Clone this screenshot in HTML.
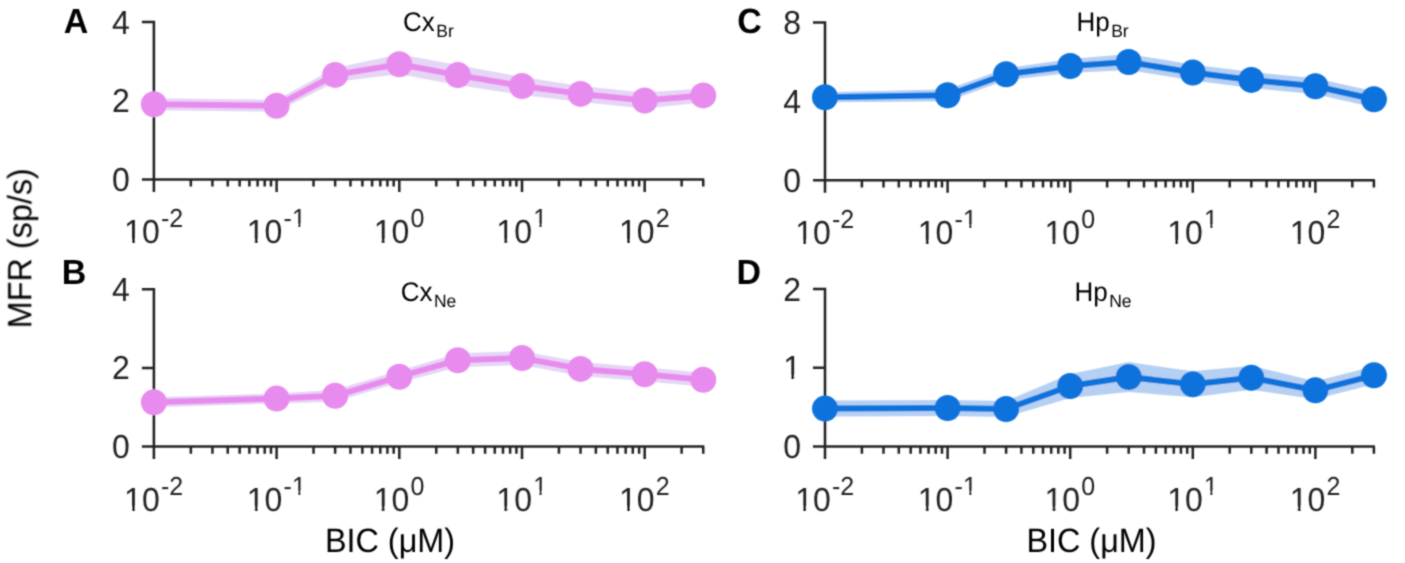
<!DOCTYPE html>
<html><head><meta charset="utf-8"><style>
html,body{margin:0;padding:0;background:#fff;width:1405px;height:563px;overflow:hidden}
svg{display:block}
text{font-family:"Liberation Sans",sans-serif}
</style></head><body>
<svg width="1405" height="563" viewBox="0 0 1405 563" font-family="Liberation Sans, sans-serif" text-rendering="geometricPrecision">
<defs><filter id="bl" x="0" y="0" width="100%" height="100%" filterUnits="userSpaceOnUse"><feConvolveMatrix order="3" kernelMatrix="1 2 1 2 8 2 1 2 1" edgeMode="duplicate" preserveAlpha="false"/></filter></defs>
<rect width="100%" height="100%" fill="#fff"/><g filter="url(#bl)"><path d="M141.9 22.1H153.9V179.4M141.9 179.4H704.24M141.9 100.75H153.9M153.9 179.4V191.9M190.84 179.4V186.6M212.44 179.4V186.6M227.77 179.4V186.6M239.66 179.4V186.6M249.38 179.4V186.6M257.59 179.4V186.6M264.71 179.4V186.6M270.99 179.4V186.6M276.6 179.4V191.9M313.54 179.4V186.6M335.14 179.4V186.6M350.47 179.4V186.6M362.36 179.4V186.6M372.08 179.4V186.6M380.29 179.4V186.6M387.41 179.4V186.6M393.69 179.4V186.6M399.3 179.4V191.9M436.24 179.4V186.6M457.84 179.4V186.6M473.17 179.4V186.6M485.06 179.4V186.6M494.78 179.4V186.6M502.99 179.4V186.6M510.11 179.4V186.6M516.39 179.4V186.6M522 179.4V191.9M558.94 179.4V186.6M580.54 179.4V186.6M595.87 179.4V186.6M607.76 179.4V186.6M617.48 179.4V186.6M625.69 179.4V186.6M632.81 179.4V186.6M639.09 179.4V186.6M644.7 179.4V191.9M681.64 179.4V186.6M703.24 179.4V186.6M141.9 289.2H153.9V446.6M141.9 446.6H704.24M141.9 367.9H153.9M153.9 446.6V459.1M190.84 446.6V453.8M212.44 446.6V453.8M227.77 446.6V453.8M239.66 446.6V453.8M249.38 446.6V453.8M257.59 446.6V453.8M264.71 446.6V453.8M270.99 446.6V453.8M276.6 446.6V459.1M313.54 446.6V453.8M335.14 446.6V453.8M350.47 446.6V453.8M362.36 446.6V453.8M372.08 446.6V453.8M380.29 446.6V453.8M387.41 446.6V453.8M393.69 446.6V453.8M399.3 446.6V459.1M436.24 446.6V453.8M457.84 446.6V453.8M473.17 446.6V453.8M485.06 446.6V453.8M494.78 446.6V453.8M502.99 446.6V453.8M510.11 446.6V453.8M516.39 446.6V453.8M522 446.6V459.1M558.94 446.6V453.8M580.54 446.6V453.8M595.87 446.6V453.8M607.76 446.6V453.8M617.48 446.6V453.8M625.69 446.6V453.8M632.81 446.6V453.8M639.09 446.6V453.8M644.7 446.6V459.1M681.64 446.6V453.8M703.24 446.6V453.8M813 22.6H825V180.2M813 180.2H1374.9M813 101.4H825M825 180.2V192.7M861.91 180.2V187.4M883.5 180.2V187.4M898.81 180.2V187.4M910.69 180.2V187.4M920.4 180.2V187.4M928.61 180.2V187.4M935.72 180.2V187.4M941.99 180.2V187.4M947.6 180.2V192.7M984.51 180.2V187.4M1006.1 180.2V187.4M1021.41 180.2V187.4M1033.29 180.2V187.4M1043 180.2V187.4M1051.21 180.2V187.4M1058.32 180.2V187.4M1064.59 180.2V187.4M1070.2 180.2V192.7M1107.11 180.2V187.4M1128.7 180.2V187.4M1144.01 180.2V187.4M1155.89 180.2V187.4M1165.6 180.2V187.4M1173.81 180.2V187.4M1180.92 180.2V187.4M1187.19 180.2V187.4M1192.8 180.2V192.7M1229.71 180.2V187.4M1251.3 180.2V187.4M1266.61 180.2V187.4M1278.49 180.2V187.4M1288.2 180.2V187.4M1296.41 180.2V187.4M1303.52 180.2V187.4M1309.79 180.2V187.4M1315.4 180.2V192.7M1352.31 180.2V187.4M1373.9 180.2V187.4M813 289H825V446.6M813 446.6H1374.9M813 367.8H825M825 446.6V459.1M861.91 446.6V453.8M883.5 446.6V453.8M898.81 446.6V453.8M910.69 446.6V453.8M920.4 446.6V453.8M928.61 446.6V453.8M935.72 446.6V453.8M941.99 446.6V453.8M947.6 446.6V459.1M984.51 446.6V453.8M1006.1 446.6V453.8M1021.41 446.6V453.8M1033.29 446.6V453.8M1043 446.6V453.8M1051.21 446.6V453.8M1058.32 446.6V453.8M1064.59 446.6V453.8M1070.2 446.6V459.1M1107.11 446.6V453.8M1128.7 446.6V453.8M1144.01 446.6V453.8M1155.89 446.6V453.8M1165.6 446.6V453.8M1173.81 446.6V453.8M1180.92 446.6V453.8M1187.19 446.6V453.8M1192.8 446.6V459.1M1229.71 446.6V453.8M1251.3 446.6V453.8M1266.61 446.6V453.8M1278.49 446.6V453.8M1288.2 446.6V453.8M1296.41 446.6V453.8M1303.52 446.6V453.8M1309.79 446.6V453.8M1315.4 446.6V459.1M1352.31 446.6V453.8M1373.9 446.6V453.8" stroke="#222222" stroke-width="2.5" fill="none" stroke-linecap="butt" stroke-linejoin="miter"/>
<polygon points="153.9,98.3 276.6,99.8 335.14,67.9 399.3,54.2 457.84,65.1 522,77 580.54,85.9 644.7,92.5 703.24,88.4 703.24,102.4 644.7,108.5 580.54,101.9 522,95 457.84,85.1 399.3,74.2 335.14,81.9 276.6,111.8 153.9,110.3" fill="#E5D6F6"/>
<polyline points="153.9,104.3 276.6,105.8 335.14,74.9 399.3,64.2 457.84,75.1 522,86 580.54,93.9 644.7,100.5 703.24,95.4" fill="none" stroke="#E88BEE" stroke-width="6" stroke-linejoin="round"/>
<g fill="#E88BEE"><circle cx="153.9" cy="104.3" r="13"/><circle cx="276.6" cy="105.8" r="13"/><circle cx="335.14" cy="74.9" r="13"/><circle cx="399.3" cy="64.2" r="13"/><circle cx="457.84" cy="75.1" r="13"/><circle cx="522" cy="86" r="13"/><circle cx="580.54" cy="93.9" r="13"/><circle cx="644.7" cy="100.5" r="13"/><circle cx="703.24" cy="95.4" r="13"/></g>
<polygon points="153.9,397.2 276.6,393.6 335.14,389.8 399.3,370.7 457.84,353.2 522,351 580.54,361.9 644.7,367.3 703.24,372.8 703.24,386.8 644.7,381.3 580.54,375.9 522,365 457.84,367.2 399.3,382.7 335.14,401.8 276.6,403.6 153.9,407.2" fill="#E5D6F6"/>
<polyline points="153.9,402.2 276.6,398.6 335.14,395.8 399.3,376.7 457.84,360.2 522,358 580.54,368.9 644.7,374.3 703.24,379.8" fill="none" stroke="#E88BEE" stroke-width="6" stroke-linejoin="round"/>
<g fill="#E88BEE"><circle cx="153.9" cy="402.2" r="13"/><circle cx="276.6" cy="398.6" r="13"/><circle cx="335.14" cy="395.8" r="13"/><circle cx="399.3" cy="376.7" r="13"/><circle cx="457.84" cy="360.2" r="13"/><circle cx="522" cy="358" r="13"/><circle cx="580.54" cy="368.9" r="13"/><circle cx="644.7" cy="374.3" r="13"/><circle cx="703.24" cy="379.8" r="13"/></g>
<polygon points="825,92.3 947.6,89.2 1006.1,68.2 1070.2,59 1128.7,54 1192.8,64.6 1251.3,71.9 1315.4,78.2 1373.9,91.3 1373.9,107.3 1315.4,94.2 1251.3,87.9 1192.8,80.6 1128.7,70 1070.2,73 1006.1,80.2 947.6,101.2 825,102.3" fill="#B5D0F3"/>
<polyline points="825,97.3 947.6,95.2 1006.1,74.2 1070.2,66 1128.7,62 1192.8,72.6 1251.3,79.9 1315.4,86.2 1373.9,99.3" fill="none" stroke="#0872DB" stroke-width="6" stroke-linejoin="round"/>
<g fill="#0872DB"><circle cx="825" cy="97.3" r="13"/><circle cx="947.6" cy="95.2" r="13"/><circle cx="1006.1" cy="74.2" r="13"/><circle cx="1070.2" cy="66" r="13"/><circle cx="1128.7" cy="62" r="13"/><circle cx="1192.8" cy="72.6" r="13"/><circle cx="1251.3" cy="79.9" r="13"/><circle cx="1315.4" cy="86.2" r="13"/><circle cx="1373.9" cy="99.3" r="13"/></g>
<polygon points="825,400.6 947.6,400 1006.1,401 1070.2,374 1128.7,362 1192.8,371.3 1251.3,365.7 1315.4,381.3 1373.9,366.3 1373.9,384.3 1315.4,399.3 1251.3,389.7 1192.8,397.3 1128.7,392 1070.2,398 1006.1,417 947.6,416 825,416.6" fill="#B5D0F3"/>
<polyline points="825,408.6 947.6,408 1006.1,409 1070.2,386 1128.7,377 1192.8,384.3 1251.3,377.7 1315.4,390.3 1373.9,375.3" fill="none" stroke="#0872DB" stroke-width="6" stroke-linejoin="round"/>
<g fill="#0872DB"><circle cx="825" cy="408.6" r="13"/><circle cx="947.6" cy="408" r="13"/><circle cx="1006.1" cy="409" r="13"/><circle cx="1070.2" cy="386" r="13"/><circle cx="1128.7" cy="377" r="13"/><circle cx="1192.8" cy="384.3" r="13"/><circle cx="1251.3" cy="377.7" r="13"/><circle cx="1315.4" cy="390.3" r="13"/><circle cx="1373.9" cy="375.3" r="13"/></g>
<g fill="#222222"><text transform="translate(112.1 190.9) scale(1 1.04)" font-size="32">0</text>
<text transform="translate(112.1 112.25) scale(1 1.04)" font-size="32">2</text>
<text transform="translate(112.1 33.6) scale(1 1.04)" font-size="32">4</text>
<text transform="translate(124.09 243.4) scale(1 1.04)" font-size="32">10</text><text transform="translate(160.88 227.4) scale(1 1.04)" font-size="25">-2</text>
<text transform="translate(246.79 243.4) scale(1 1.04)" font-size="32">10</text><text transform="translate(283.58 227.4) scale(1 1.04)" font-size="25">-1</text>
<text transform="translate(373.65 243.4) scale(1 1.04)" font-size="32">10</text><text transform="translate(410.44 227.4) scale(1 1.04)" font-size="25">0</text>
<text transform="translate(496.35 243.4) scale(1 1.04)" font-size="32">10</text><text transform="translate(533.14 227.4) scale(1 1.04)" font-size="25">1</text>
<text transform="translate(619.05 243.4) scale(1 1.04)" font-size="32">10</text><text transform="translate(655.84 227.4) scale(1 1.04)" font-size="25">2</text>
<text transform="translate(112.1 458.1) scale(1 1.04)" font-size="32">0</text>
<text transform="translate(112.1 379.4) scale(1 1.04)" font-size="32">2</text>
<text transform="translate(112.1 300.7) scale(1 1.04)" font-size="32">4</text>
<text transform="translate(124.09 510.6) scale(1 1.04)" font-size="32">10</text><text transform="translate(160.88 494.6) scale(1 1.04)" font-size="25">-2</text>
<text transform="translate(246.79 510.6) scale(1 1.04)" font-size="32">10</text><text transform="translate(283.58 494.6) scale(1 1.04)" font-size="25">-1</text>
<text transform="translate(373.65 510.6) scale(1 1.04)" font-size="32">10</text><text transform="translate(410.44 494.6) scale(1 1.04)" font-size="25">0</text>
<text transform="translate(496.35 510.6) scale(1 1.04)" font-size="32">10</text><text transform="translate(533.14 494.6) scale(1 1.04)" font-size="25">1</text>
<text transform="translate(619.05 510.6) scale(1 1.04)" font-size="32">10</text><text transform="translate(655.84 494.6) scale(1 1.04)" font-size="25">2</text>
<text transform="translate(783.2 191.7) scale(1 1.04)" font-size="32">0</text>
<text transform="translate(783.2 112.9) scale(1 1.04)" font-size="32">4</text>
<text transform="translate(783.2 34.1) scale(1 1.04)" font-size="32">8</text>
<text transform="translate(795.19 244.2) scale(1 1.04)" font-size="32">10</text><text transform="translate(831.98 228.2) scale(1 1.04)" font-size="25">-2</text>
<text transform="translate(917.79 244.2) scale(1 1.04)" font-size="32">10</text><text transform="translate(954.58 228.2) scale(1 1.04)" font-size="25">-1</text>
<text transform="translate(1044.55 244.2) scale(1 1.04)" font-size="32">10</text><text transform="translate(1081.34 228.2) scale(1 1.04)" font-size="25">0</text>
<text transform="translate(1167.15 244.2) scale(1 1.04)" font-size="32">10</text><text transform="translate(1203.94 228.2) scale(1 1.04)" font-size="25">1</text>
<text transform="translate(1289.75 244.2) scale(1 1.04)" font-size="32">10</text><text transform="translate(1326.54 228.2) scale(1 1.04)" font-size="25">2</text>
<text transform="translate(783.2 458.1) scale(1 1.04)" font-size="32">0</text>
<text transform="translate(783.2 379.3) scale(1 1.04)" font-size="32">1</text>
<text transform="translate(783.2 300.5) scale(1 1.04)" font-size="32">2</text>
<text transform="translate(795.19 510.6) scale(1 1.04)" font-size="32">10</text><text transform="translate(831.98 494.6) scale(1 1.04)" font-size="25">-2</text>
<text transform="translate(917.79 510.6) scale(1 1.04)" font-size="32">10</text><text transform="translate(954.58 494.6) scale(1 1.04)" font-size="25">-1</text>
<text transform="translate(1044.55 510.6) scale(1 1.04)" font-size="32">10</text><text transform="translate(1081.34 494.6) scale(1 1.04)" font-size="25">0</text>
<text transform="translate(1167.15 510.6) scale(1 1.04)" font-size="32">10</text><text transform="translate(1203.94 494.6) scale(1 1.04)" font-size="25">1</text>
<text transform="translate(1289.75 510.6) scale(1 1.04)" font-size="32">10</text><text transform="translate(1326.54 494.6) scale(1 1.04)" font-size="25">2</text></g>
<g fill="#000"><text transform="translate(403 31) scale(1 1.04)" font-size="26">Cx</text><text transform="translate(436.28 37) scale(1 1.02)" font-size="17.5">Br</text>
<text transform="translate(63.7 33.3) scale(1 1.03)" font-size="34" font-weight="bold">A</text>
<text transform="translate(400.7 301) scale(1 1.04)" font-size="26">Cx</text><text transform="translate(433.98 307.2) scale(1 1.02)" font-size="17.5">Ne</text>
<text transform="translate(61.8 283.5) scale(1 1.03)" font-size="34" font-weight="bold">B</text>
<text transform="translate(1076.4 31) scale(1 1.04)" font-size="26">Hp</text><text transform="translate(1111.14 36.6) scale(1 1.02)" font-size="17.5">Br</text>
<text transform="translate(737.2 33.4) scale(1 1.03)" font-size="34" font-weight="bold">C</text>
<text transform="translate(1074.4 300.6) scale(1 1.04)" font-size="26">Hp</text><text transform="translate(1109.14 307.2) scale(1 1.02)" font-size="17.5">Ne</text>
<text transform="translate(736.4 283.5) scale(1 1.03)" font-size="34" font-weight="bold">D</text>
<text transform="translate(324.88 552.4) scale(1 1.04)" font-size="32.4">BIC (μM)</text>
<text transform="translate(1026.38 552.4) scale(1 1.04)" font-size="32.4">BIC (μM)</text></g>
<path d="M125.49 239.6H132.01V244.4H125.49ZM135.09 239.6H141.43V244.4H135.09ZM248.19 239.6H254.71V244.4H248.19ZM257.79 239.6H264.13V244.4H257.79ZM293.01 224.17H298.1V228.4H293.01ZM300.5 224.17H305.46V228.4H300.5ZM375.06 239.6H381.57V244.4H375.06ZM384.65 239.6H390.99V244.4H384.65ZM497.76 239.6H504.27V244.4H497.76ZM507.35 239.6H513.69V244.4H507.35ZM534.24 224.17H539.33V228.4H534.24ZM541.74 224.17H546.69V228.4H541.74ZM620.46 239.6H626.97V244.4H620.46ZM630.05 239.6H636.39V244.4H630.05ZM125.49 506.8H132.01V511.6H125.49ZM135.09 506.8H141.43V511.6H135.09ZM248.19 506.8H254.71V511.6H248.19ZM257.79 506.8H264.13V511.6H257.79ZM293.01 491.37H298.1V495.6H293.01ZM300.5 491.37H305.46V495.6H300.5ZM375.06 506.8H381.57V511.6H375.06ZM384.65 506.8H390.99V511.6H384.65ZM497.76 506.8H504.27V511.6H497.76ZM507.35 506.8H513.69V511.6H507.35ZM534.24 491.37H539.33V495.6H534.24ZM541.74 491.37H546.69V495.6H541.74ZM620.46 506.8H626.97V511.6H620.46ZM630.05 506.8H636.39V511.6H630.05ZM796.59 240.4H803.11V245.2H796.59ZM806.19 240.4H812.53V245.2H806.19ZM919.19 240.4H925.71V245.2H919.19ZM928.79 240.4H935.13V245.2H928.79ZM964.01 224.97H969.1V229.2H964.01ZM971.5 224.97H976.46V229.2H971.5ZM1045.96 240.4H1052.47V245.2H1045.96ZM1055.55 240.4H1061.89V245.2H1055.55ZM1168.56 240.4H1175.07V245.2H1168.56ZM1178.15 240.4H1184.49V245.2H1178.15ZM1205.04 224.97H1210.13V229.2H1205.04ZM1212.54 224.97H1217.49V229.2H1212.54ZM1291.16 240.4H1297.67V245.2H1291.16ZM1300.75 240.4H1307.09V245.2H1300.75ZM784.61 375.5H791.12V380.3H784.61ZM794.2 375.5H800.55V380.3H794.2ZM796.59 506.8H803.11V511.6H796.59ZM806.19 506.8H812.53V511.6H806.19ZM919.19 506.8H925.71V511.6H919.19ZM928.79 506.8H935.13V511.6H928.79ZM964.01 491.37H969.1V495.6H964.01ZM971.5 491.37H976.46V495.6H971.5ZM1045.96 506.8H1052.47V511.6H1045.96ZM1055.55 506.8H1061.89V511.6H1055.55ZM1168.56 506.8H1175.07V511.6H1168.56ZM1178.15 506.8H1184.49V511.6H1178.15ZM1205.04 491.37H1210.13V495.6H1205.04ZM1212.54 491.37H1217.49V495.6H1212.54ZM1291.16 506.8H1297.67V511.6H1291.16ZM1300.75 506.8H1307.09V511.6H1300.75Z" fill="#fff"/>
<g fill="#000"><text transform="translate(31.5 248.25) rotate(-90) translate(-80.09 0) scale(1 1.04)" font-size="32.4">MFR (sp/s)</text></g></g>
</svg>
</body></html>
